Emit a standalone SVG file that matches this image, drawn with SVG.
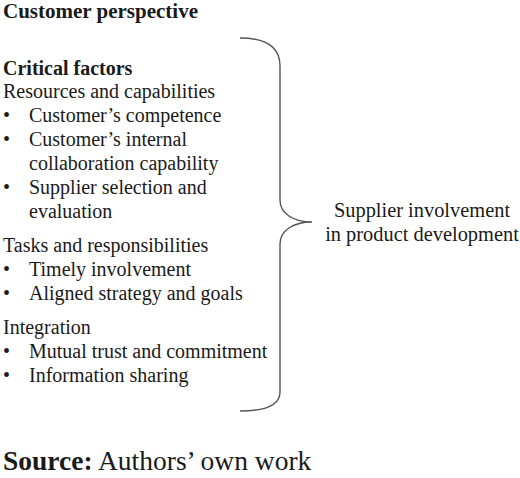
<svg xmlns="http://www.w3.org/2000/svg" width="520" height="478" viewBox="0 0 520 478" font-family="'Liberation Serif', 'Times New Roman', 'DejaVu Serif', serif">
<style>
text{font-family:'Liberation Serif','Times New Roman','DejaVu Serif',serif;font-size:20px;fill:#1a1a1a}
.b{font-weight:bold}
.title{font-size:21px}
.right{font-size:20.4px}
.src{font-size:27.5px}
.brace{fill:none;stroke:#555;stroke-width:1.4}
</style>
<rect width="520" height="478" fill="#fff"/>
<g id="customer-perspective">
<text class="b title" x="3" y="18">Customer perspective</text>
<text class="b" x="3" y="75">Critical factors</text>
<text x="3" y="98">Resources and capabilities</text>
<text x="3" y="122">•</text><text x="29" y="122">Customer’s competence</text>
<text x="3" y="146">•</text><text x="29" y="146">Customer’s internal</text>
<text x="29" y="170">collaboration capability</text>
<text x="3" y="194">•</text><text x="29" y="194">Supplier selection and</text>
<text x="29" y="218">evaluation</text>
<text x="3" y="252">Tasks and responsibilities</text>
<text x="3" y="276">•</text><text x="29" y="276">Timely involvement</text>
<text x="3" y="300">•</text><text x="29" y="300">Aligned strategy and goals</text>
<text x="3" y="334">Integration</text>
<text x="3" y="358">•</text><text x="29" y="358">Mutual trust and commitment</text>
<text x="3" y="382">•</text><text x="29" y="382">Information sharing</text>
</g>
<g id="connectors">
<path class="brace" d="M240,38 C268,38 280,48 280,66 L280,200 C280,214 294,222 312,222 C294,222 280,230 280,244 L280,392 C280,404 268,411 240,411"/>
</g>
<g id="supplier-involvement">
<text class="right" x="422" y="217" text-anchor="middle">Supplier involvement</text>
<text class="right" x="422" y="241" text-anchor="middle">in product development</text>
</g>
<g id="source">
<text class="src" x="3" y="470"><tspan class="b">Source:</tspan> Authors’ own work</text>
</g>
</svg>
